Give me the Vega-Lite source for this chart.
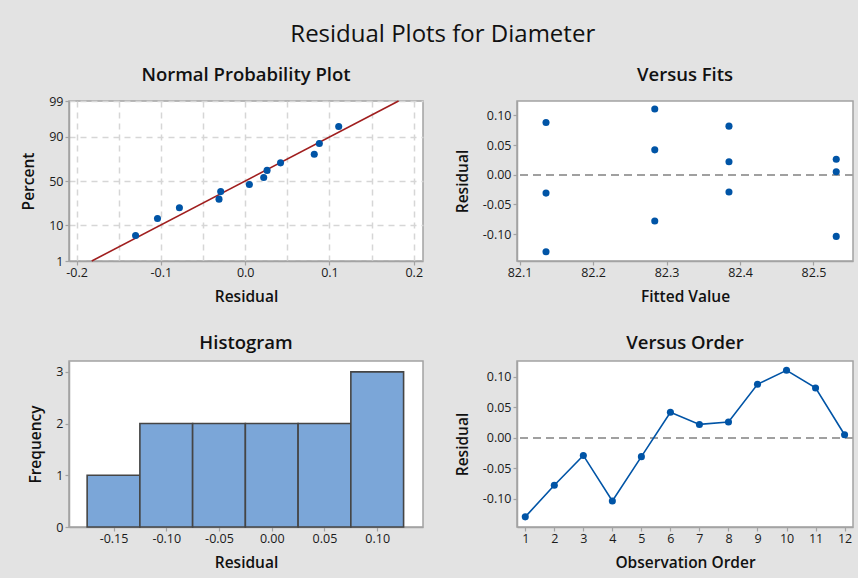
{
  "$schema": "https://vega.github.io/schema/vega-lite/v6.json",
  "background": "#e3e3e3",
  "padding": {"left": 20, "top": 22, "right": 6, "bottom": 8},
  "title": {
    "text": "Residual Plots for Diameter",
    "font": "Open Sans",
    "fontSize": 24,
    "fontWeight": 500,
    "color": "#111111",
    "anchor": "middle",
    "frame": "bounds",
    "baseline": "alphabetic",
    "offset": -1,
    "dx": 5
  },
  "datasets": {
    "resid": [
      {"order": 1, "fit": 82.136, "residual": -0.130},
      {"order": 2, "fit": 82.284, "residual": -0.078},
      {"order": 3, "fit": 82.385, "residual": -0.029},
      {"order": 4, "fit": 82.531, "residual": -0.104},
      {"order": 5, "fit": 82.136, "residual": -0.031},
      {"order": 6, "fit": 82.284, "residual": 0.042},
      {"order": 7, "fit": 82.385, "residual": 0.022},
      {"order": 8, "fit": 82.531, "residual": 0.026},
      {"order": 9, "fit": 82.136, "residual": 0.088},
      {"order": 10, "fit": 82.284, "residual": 0.111},
      {"order": 11, "fit": 82.385, "residual": 0.082},
      {"order": 12, "fit": 82.531, "residual": 0.005}
    ],
    "normal": [
      {"residual": -0.130, "percent": 5.6, "normalScore": -1.585},
      {"residual": -0.104, "percent": 13.7, "normalScore": -1.093},
      {"residual": -0.078, "percent": 21.8, "normalScore": -0.780},
      {"residual": -0.031, "percent": 29.8, "normalScore": -0.528},
      {"residual": -0.029, "percent": 37.9, "normalScore": -0.308},
      {"residual": 0.005, "percent": 46.0, "normalScore": -0.101},
      {"residual": 0.022, "percent": 54.0, "normalScore": 0.101},
      {"residual": 0.026, "percent": 62.1, "normalScore": 0.308},
      {"residual": 0.042, "percent": 70.2, "normalScore": 0.528},
      {"residual": 0.082, "percent": 78.2, "normalScore": 0.780},
      {"residual": 0.088, "percent": 86.3, "normalScore": 1.093},
      {"residual": 0.111, "percent": 94.4, "normalScore": 1.585}
    ],
    "fitline": [
      {"residual": -0.182, "percent": 1, "normalScore": -2.3263},
      {"residual": 0.182, "percent": 99, "normalScore": 2.3263}
    ],
    "hist": [
      {"lo": -0.175, "hi": -0.125, "count": 1},
      {"lo": -0.125, "hi": -0.075, "count": 2},
      {"lo": -0.075, "hi": -0.025, "count": 2},
      {"lo": -0.025, "hi": 0.025, "count": 2},
      {"lo": 0.025, "hi": 0.075, "count": 2},
      {"lo": 0.075, "hi": 0.125, "count": 3}
    ]
  },
  "columns": 2,
  "spacing": {"row": 100, "column": 94},
  "bounds": "flush",
  "concat": [
    {
      "width": 354,
      "height": 160,
      "title": {"text": "Normal Probability Plot", "offset": 11},
      "layer": [
        {
          "data": {"name": "fitline"},
          "mark": {"type": "line", "color": "#a01e1e", "strokeWidth": 1.6},
          "encoding": {
            "x": {
              "field": "residual", "type": "quantitative", "title": "Residual",
              "scale": {"domain": [-0.209, 0.211], "nice": false, "zero": false},
              "axis": {
                "values": [-0.2, -0.15, -0.1, -0.05, 0, 0.05, 0.1, 0.15, 0.2],
                "tickCount": 30,
                "format": ".1f",
                "labelExpr": "abs(datum.value*10 - round(datum.value*10)) < 0.001 ? datum.label : ''",
                "tickOpacity": {"condition": {"test": "abs(datum.value*10 - round(datum.value*10)) < 0.001", "value": 1}, "value": 0},
                "grid": true,
                "gridColor": "#d6d6d6",
                "gridDash": [6, 5],
                "gridWidth": 1.5
              }
            },
            "y": {
              "field": "normalScore", "type": "quantitative", "title": "Percent",
              "scale": {"domain": [-2.3263, 2.3263], "nice": false, "zero": false},
              "axis": {
                "values": [-2.3263, -1.2816, 0, 1.2816, 2.3263],
                "tickCount": 30,
                "labelExpr": "datum.value < -2 ? '1' : datum.value < -1 ? '10' : datum.value < 1 ? '50' : datum.value < 2 ? '90' : '99'",
                "grid": true,
                "gridColor": "#d6d6d6",
                "gridDash": [6, 5],
                "gridWidth": 1.5
              }
            }
          }
        },
        {
          "data": {"name": "normal"},
          "mark": {"type": "point", "filled": true, "size": 50, "color": "#0054a6", "opacity": 1},
          "encoding": {
            "x": {"field": "residual", "type": "quantitative", "title": "Residual"},
            "y": {"field": "normalScore", "type": "quantitative", "title": "Percent"}
          }
        }
      ]
    },
    {
      "width": 336,
      "height": 160,
      "title": {"text": "Versus Fits", "offset": 17},
      "layer": [
        {
          "data": {"name": "resid"},
          "mark": {"type": "rule", "color": "#a0a0a0", "strokeDash": [8, 5], "strokeWidth": 1.6},
          "encoding": {
            "y": {
              "datum": 0, "type": "quantitative", "title": "Residual",
              "scale": {"domain": [-0.1455, 0.1244], "nice": false, "zero": false},
              "axis": {"values": [-0.1, -0.05, 0, 0.05, 0.1], "tickCount": 30, "format": ".2f"}
            }
          }
        },
        {
          "data": {"name": "resid"},
          "mark": {"type": "point", "filled": true, "size": 50, "color": "#0054a6", "opacity": 1},
          "encoding": {
            "x": {
              "field": "fit", "type": "quantitative", "title": "Fitted Value",
              "scale": {"domain": [82.0965, 82.5538], "nice": false, "zero": false},
              "axis": {"values": [82.1, 82.2, 82.3, 82.4, 82.5], "tickCount": 30, "format": ".1f"}
            },
            "y": {"field": "residual", "type": "quantitative", "title": "Residual"}
          }
        }
      ]
    },
    {
      "width": 354,
      "height": 166,
      "title": {"text": "Histogram", "offset": 9},
      "data": {"name": "hist"},
      "mark": {"type": "bar", "fill": "#7ba6d8", "stroke": "#454545", "strokeWidth": 1.6},
      "encoding": {
        "x": {
          "field": "lo", "type": "quantitative", "title": "Residual",
          "scale": {"domain": [-0.1922, 0.1434], "nice": false, "zero": false},
          "axis": {"values": [-0.15, -0.1, -0.05, 0, 0.05, 0.1], "tickCount": 30, "format": ".2f"}
        },
        "x2": {"field": "hi"},
        "y": {
          "field": "count", "type": "quantitative", "title": "Frequency",
          "scale": {"domain": [0, 3.21], "nice": false},
          "axis": {"values": [0, 1, 2, 3], "tickCount": 30, "format": "d"}
        },
        "y2": {"datum": 0}
      }
    },
    {
      "width": 336,
      "height": 166,
      "title": {"text": "Versus Order", "offset": 9},
      "layer": [
        {
          "data": {"name": "resid"},
          "mark": {"type": "rule", "color": "#a0a0a0", "strokeDash": [8, 5], "strokeWidth": 1.6},
          "encoding": {
            "y": {
              "datum": 0, "type": "quantitative", "title": "Residual",
              "scale": {"domain": [-0.1467, 0.1263], "nice": false, "zero": false},
              "axis": {"values": [-0.1, -0.05, 0, 0.05, 0.1], "tickCount": 30, "format": ".2f"}
            }
          }
        },
        {
          "data": {"name": "resid"},
          "mark": {"type": "line", "color": "#0054a6", "strokeWidth": 1.6,
                   "point": {"filled": true, "size": 50, "color": "#0054a6", "opacity": 1}},
          "encoding": {
            "x": {
              "field": "order", "type": "quantitative", "title": "Observation Order",
              "scale": {"domain": [0.715, 12.29], "nice": false, "zero": false},
              "axis": {"values": [1, 2, 3, 4, 5, 6, 7, 8, 9, 10, 11, 12], "tickCount": 30, "format": "d"}
            },
            "y": {"field": "residual", "type": "quantitative", "title": "Residual"}
          }
        }
      ]
    }
  ],
  "config": {
    "locale": {"number": {"decimal": ".", "thousands": ",", "grouping": [3], "currency": ["$", ""], "minus": "-"}},
    "font": "Open Sans",
    "view": {"stroke": "#a3a3a3", "strokeWidth": 1.5, "fill": "white"},
    "axis": {
      "labelFont": "Open Sans",
      "labelFontSize": 12.5,
      "labelColor": "#1a1a1a",
      "titleFont": "Open Sans",
      "titleFontSize": 15.5,
      "titleFontWeight": 600,
      "titleColor": "#111111",
      "domainColor": "#a3a3a3",
      "domainWidth": 1.5,
      "tickColor": "#a3a3a3",
      "tickSize": 4,
      "tickWidth": 1.2,
      "labelFlush": false,
      "labelOverlap": false,
      "grid": false
    },
    "axisX": {"labelPadding": 1, "titlePadding": 11},
    "axisY": {"labelPadding": 2, "titlePadding": 12},
    "title": {
      "font": "Open Sans",
      "fontSize": 18.5,
      "fontWeight": 600,
      "color": "#111111",
      "baseline": "alphabetic",
      "frame": "group"
    }
  }
}
